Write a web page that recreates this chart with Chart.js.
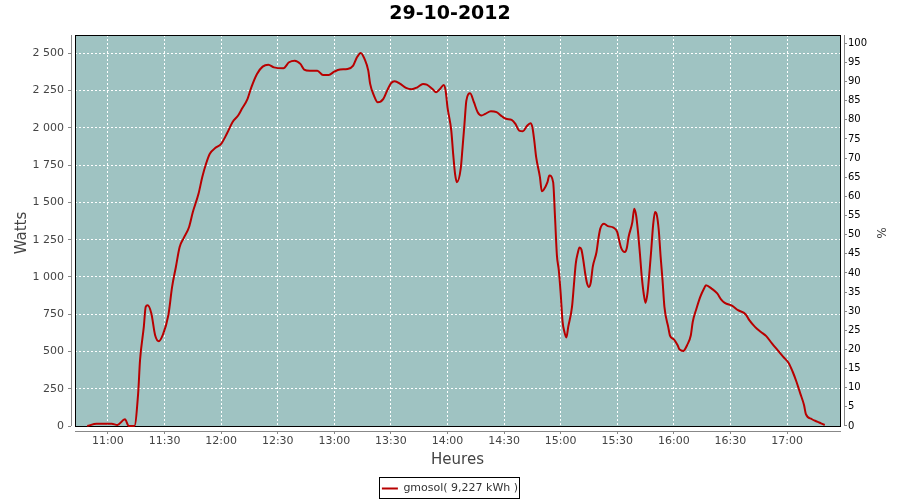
<!DOCTYPE html>
<html>
<head>
<meta charset="utf-8">
<title>29-10-2012</title>
<script src="https://cdn.jsdelivr.net/npm/chart.js@4.4.1/dist/chart.umd.min.js"></script>
<style>
  html, body { margin: 0; padding: 0; background: #fff; }
</style>
</head>
<body>
<canvas id="chart" width="900" height="500"></canvas>
<script>
// Production du 29-10-2012 (W)
const times = [
  '10:49', '10:54', '11:02', '11:05', '11:09', '11:11', '11:14', '11:16', '11:17', '11:19',
  '11:20', '11:21', '11:23', '11:25', '11:27', '11:29', '11:32', '11:34', '11:36', '11:38',
  '11:40', '11:43', '11:45', '11:48', '11:50', '11:52', '11:54', '11:57', '12:00', '12:03',
  '12:06', '12:09', '12:11', '12:14', '12:16', '12:19', '12:22', '12:25', '12:28', '12:33',
  '12:36', '12:39', '12:42', '12:44', '12:47', '12:51', '12:54', '12:57', '13:00', '13:03',
  '13:07', '13:10', '13:12', '13:14', '13:16', '13:18', '13:19', '13:21', '13:23', '13:26',
  '13:28', '13:30', '13:32', '13:35', '13:38', '13:41', '13:44', '13:47', '13:49', '13:52',
  '13:54', '13:56', '13:58', '13:59', '14:00', '14:02', '14:03', '14:04', '14:05', '14:07',
  '14:08', '14:09', '14:10', '14:12', '14:14', '14:16', '14:18', '14:20', '14:23', '14:26',
  '14:29', '14:31', '14:34', '14:36', '14:38', '14:40', '14:42', '14:44', '14:45', '14:46',
  '14:47', '14:49', '14:50', '14:51', '14:53', '14:54', '14:56', '14:57', '14:58', '14:59',
  '15:00', '15:01', '15:02', '15:03', '15:04', '15:06', '15:07', '15:08', '15:09', '15:10',
  '15:11', '15:12', '15:13', '15:14', '15:15', '15:16', '15:17', '15:19', '15:20', '15:21',
  '15:23', '15:25', '15:28', '15:30', '15:31', '15:32', '15:34', '15:35', '15:36', '15:38',
  '15:39', '15:40', '15:41', '15:42', '15:43', '15:44', '15:45', '15:46', '15:47', '15:48',
  '15:49', '15:50', '15:51', '15:52', '15:53', '15:54', '15:55', '15:57', '15:58', '16:00',
  '16:02', '16:03', '16:05', '16:07', '16:09', '16:10', '16:12', '16:14', '16:16', '16:17',
  '16:20', '16:23', '16:25', '16:27', '16:31', '16:34', '16:38', '16:40', '16:43', '16:46',
  '16:49', '16:52', '16:55', '16:58', '17:01', '17:03', '17:05', '17:07', '17:09', '17:10',
  '17:13', '17:16', '17:18', '17:20'
];
const watts = [
  0, 15, 15, 7, 45, 0, 0, 219, 442, 665,
  799, 810, 755, 609, 569, 609, 743, 933, 1067, 1201,
  1257, 1335, 1435, 1558, 1670, 1759, 1826, 1866, 1893, 1960,
  2038, 2083, 2128, 2195, 2272, 2362, 2411, 2424, 2406, 2400,
  2440, 2451, 2429, 2391, 2384, 2384, 2355, 2355, 2377, 2391,
  2395, 2418, 2473, 2503, 2463, 2384, 2295, 2217, 2172, 2195,
  2250, 2299, 2313, 2295, 2268, 2259, 2272, 2295, 2290, 2261,
  2239, 2261, 2288, 2250, 2138, 1982, 1826, 1692, 1636, 1726,
  1871, 2027, 2183, 2232, 2172, 2105, 2083, 2094, 2112, 2105,
  2076, 2061, 2054, 2027, 1982, 1978, 2011, 2031, 2004, 1915,
  1804, 1670, 1574, 1585, 1636, 1681, 1636, 1400, 1145, 1045,
  889, 700, 630, 594, 665, 799, 944, 1090, 1157, 1197,
  1183, 1112, 1023, 956, 933, 966, 1067, 1167, 1257, 1324,
  1357, 1341, 1331, 1301, 1246, 1197, 1167, 1190, 1268, 1368,
  1458, 1413, 1301, 1157, 1000, 889, 826, 889, 1023, 1179,
  1346, 1435, 1413, 1313, 1134, 978, 799, 665, 605, 581,
  542, 514, 504, 542, 609, 698, 788, 866, 922, 944,
  922, 889, 850, 826, 806, 777, 750, 710, 665, 632,
  603, 554, 509, 464, 420, 364, 297, 219, 141, 80,
  47, 29, 18, 7
];
const timeTicks = ['11:00', '11:30', '12:00', '12:30', '13:00', '13:30', '14:00',
                   '14:30', '15:00', '15:30', '16:00', '16:30', '17:00'];
const wattTicks = [0, 250, 500, 750, 1000, 1250, 1500, 1750, 2000, 2250, 2500];
const pctTicks = [0, 5, 10, 15, 20, 25, 30, 35, 40, 45, 50,
                  55, 60, 65, 70, 75, 80, 85, 90, 95, 100];
const seriesLabel = 'gmosol( 9,227 kWh )';

const toMin = t => {
  const [h, m] = t.split(':').map(Number);
  return h * 60 + m;
};
const fmtTime = v => {
  const h = Math.floor(v / 60), m = Math.round(v % 60);
  return String(h).padStart(2, '0') + ':' + String(m).padStart(2, '0');
};
const fmtWatts = v => String(v).replace(/\B(?=(\d{3})+(?!\d))/g, ' ');

const FONT = "'DejaVu Sans', sans-serif";

// fond du graphe, cadre, axes decales et cadre de legende
const plotFrame = {
  id: 'plotFrame',
  beforeDraw(chart) {
    const { ctx, chartArea: a } = chart;
    ctx.save();
    ctx.fillStyle = '#ffffff';
    ctx.fillRect(0, 0, chart.width, chart.height);
    ctx.fillStyle = '#9fc3c2';
    ctx.fillRect(a.left + 4, a.top, a.right - a.left - 7, a.bottom - a.top - 5);
    ctx.restore();
  },
  beforeDatasetsDraw(chart) {
    const { ctx, chartArea: a } = chart;
    ctx.save();
    ctx.strokeStyle = '#000';
    ctx.lineWidth = 1;
    ctx.strokeRect(a.left + 4.5, a.top + 0.5, a.right - a.left - 8, a.bottom - a.top - 5);
    ctx.restore();
  },
  afterDraw(chart) {
    const { ctx, chartArea: a } = chart;
    ctx.save();
    ctx.strokeStyle = '#888';
    ctx.lineWidth = 1;
    ctx.beginPath();
    ctx.moveTo(a.left + 0.5, a.top);
    ctx.lineTo(a.left + 0.5, a.bottom - 5);
    ctx.moveTo(a.right + 0.5, a.top);
    ctx.lineTo(a.right + 0.5, a.bottom - 5);
    ctx.moveTo(a.left + 4, a.bottom + 0.5);
    ctx.lineTo(a.right - 3, a.bottom + 0.5);
    ctx.stroke();
    const hb = chart.legend && chart.legend.legendHitBoxes[0];
    if (hb) {
      ctx.strokeStyle = '#000';
      ctx.strokeRect(Math.round(hb.left - 3) + 0.5, Math.round(hb.top - 6) + 0.5,
                     Math.round(hb.width + 4), 21);
    }
    ctx.restore();
  }
};

new Chart(document.getElementById('chart'), {
  type: 'line',
  data: {
    datasets: [{
      label: seriesLabel,
      data: times.map((t, i) => ({ x: toMin(t), y: watts[i] })),
      borderColor: '#b80000',
      backgroundColor: '#b80000',
      borderWidth: 2,
      pointRadius: 0,
      cubicInterpolationMode: 'monotone',
      fill: false,
      yAxisID: 'y'
    }]
  },
  options: {
    responsive: false,
    animation: false,
    devicePixelRatio: 1,
    layout: { padding: { left: 0, right: 0, top: 0, bottom: -4 } },
    plugins: {
      tooltip: { enabled: false },
      title: {
        display: true,
        text: '29-10-2012',
        color: '#000',
        font: { family: FONT, size: 19, weight: 'bold', lineHeight: '23px' },
        padding: { top: 3, bottom: 9 }
      },
      legend: {
        position: 'bottom',
        labels: {
          color: '#333',
          font: { family: FONT, size: 11 },
          usePointStyle: true,
          pointStyle: 'line',
          pointStyleWidth: 16,
          padding: 8
        }
      }
    },
    scales: {
      x: {
        type: 'linear',
        min: 640.4,
        max: 1050.2,
        afterBuildTicks: s => { s.ticks = timeTicks.map(t => ({ value: toMin(t) })); },
        afterFit: s => { s.height = 44; },
        border: { display: false, dash: [2, 2] },
        grid: {
          color: '#ffffff',
          tickColor: '#888',
          tickBorderDash: [],
          tickLength: 3
        },
        ticks: {
          autoSkip: false,
          maxRotation: 0,
          padding: 1,
          color: '#444',
          font: { family: FONT, size: 11 },
          callback: v => fmtTime(v)
        },
        title: {
          display: true,
          text: 'Heures',
          color: '#444',
          font: { family: FONT, size: 15 },
          padding: { top: 0, bottom: 6 }
        }
      },
      y: {
        position: 'left',
        min: -33.5,
        max: 2623,
        afterBuildTicks: s => { s.ticks = wattTicks.map(v => ({ value: v })); },
        afterFit: s => { s.width = 71; },
        border: { display: false, dash: [2, 2] },
        grid: {
          color: '#ffffff',
          tickColor: '#888',
          tickBorderDash: [],
          tickLength: 3
        },
        ticks: {
          padding: 4,
          color: '#444',
          font: { family: FONT, size: 11 },
          callback: v => fmtWatts(v)
        },
        title: {
          display: true,
          text: 'Watts',
          color: '#444',
          font: { family: FONT, size: 15 },
          padding: { top: 13, bottom: 0 }
        }
      },
      y2: {
        position: 'right',
        min: -1.31,
        max: 102.17,
        afterBuildTicks: s => { s.ticks = pctTicks.map(v => ({ value: v })); },
        afterFit: s => { s.width = 56; },
        border: { display: false },
        grid: {
          drawOnChartArea: false,
          tickColor: '#888',
          tickLength: 3
        },
        ticks: {
          padding: 1,
          color: '#000',
          font: { family: FONT, size: 10 }
        },
        title: {
          display: true,
          text: '%',
          color: '#444',
          font: { family: FONT, size: 12 },
          padding: { top: 13, bottom: 0 }
        }
      }
    }
  },
  plugins: [plotFrame]
});
</script>
</body>
</html>
